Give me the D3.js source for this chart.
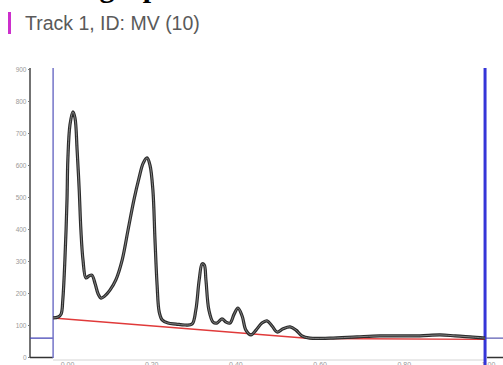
<!DOCTYPE html>
<html>
<head>
<meta charset="utf-8">
<script src="https://cdn.jsdelivr.net/npm/d3@7"></script>
<style>
  html, body { margin: 0; padding: 0; background: #fff; }
  svg { display: block; }
</style>
</head>
<body>
<svg id="chart" width="503" height="365"></svg>
<script>
// Densitogram of track 1 (Rf position vs. signal in AU)
const trackTitle = "Track 1, ID: MV (10)";
const heading = "HPTLC graph";

const rfTicks = [0.00, 0.20, 0.40, 0.60, 0.80, 1.00];
const auTicks = [0, 100, 200, 300, 400, 500, 600, 700, 800, 900];

// scan signal
const scanRf = [
  -0.033, -0.021, -0.014, -0.010, -0.005, 0.000, 0.002, 0.007, 0.014, 0.019,
  0.024, 0.029, 0.033, 0.038, 0.045, 0.052, 0.059, 0.067, 0.074, 0.081,
  0.090, 0.102, 0.116, 0.131, 0.145, 0.159, 0.171, 0.181, 0.190, 0.197,
  0.204, 0.209, 0.214, 0.219, 0.226, 0.240, 0.259, 0.280, 0.297, 0.306,
  0.314, 0.321, 0.326, 0.330, 0.337, 0.347, 0.356, 0.368, 0.378, 0.387,
  0.397, 0.406, 0.416, 0.425, 0.437, 0.449, 0.463, 0.475, 0.487, 0.499,
  0.513, 0.530, 0.544, 0.558, 0.577, 0.625, 0.689, 0.743, 0.791, 0.838,
  0.886, 0.922, 0.957, 0.993
];
const scanAU = [
  122, 125, 134, 178, 303, 491, 616, 725, 766, 747,
  647, 522, 397, 303, 247, 253, 256, 228, 197, 184,
  191, 209, 241, 303, 397, 491, 559, 606, 622, 600,
  522, 366, 225, 141, 116, 106, 103, 100, 103, 147,
  241, 291, 288, 241, 147, 109, 106, 119, 109, 106,
  134, 153, 128, 84, 69, 84, 106, 113, 97, 78,
  88, 94, 84, 66, 59, 59, 63, 66, 66, 66,
  69, 66, 63, 59
];

// integration baseline
const baseRf = [-0.033, 0.577, 0.993];
const baseAU = [122, 58, 55];

// application position and solvent front
const startRf = -0.033;
const frontRf = 0.993;
const markerAU = 59;

const svg = d3.select("#chart");

const x = d3.scaleLinear().domain([0, 1]).range([67, 488]);
const y = d3.scaleLinear().domain([0, 900]).range([357, 69]);

// heading above (clipped by the top edge)
const measure = svg.append("text")
  .attr("font-family", "Liberation Serif, serif")
  .attr("font-weight", "bold")
  .attr("font-size", 30)
  .text("HPTLC ");
const prefixW = measure.node().getComputedTextLength();
measure.remove();
svg.append("text")
  .attr("x", 92 - prefixW)
  .attr("y", -3)
  .attr("font-family", "Liberation Serif, serif")
  .attr("font-weight", "bold")
  .attr("font-size", 30)
  .attr("fill", "#000")
  .text(heading);

// track title
svg.append("rect")
  .attr("x", 8).attr("y", 12).attr("width", 3).attr("height", 22)
  .attr("fill", "#cc2fcc");
svg.append("text")
  .attr("x", 25).attr("y", 30)
  .attr("font-family", "Liberation Sans, Arial, sans-serif")
  .attr("font-size", 19.5)
  .attr("fill", "#5a5a5a")
  .text(trackTitle);

// y axis
const yAxis = d3.axisLeft(y).tickValues(auTicks).tickSize(2).tickPadding(1.5);
const gy = svg.append("g").attr("transform", "translate(30,0)").call(yAxis);
gy.select(".domain").attr("stroke", "#444").attr("stroke-width", 1.5)
  .attr("d", `M0,${y(900) - 1}V${y(0) + 1}`);
gy.selectAll(".tick line").attr("stroke", "#777");
gy.selectAll(".tick text")
  .attr("font-family", "Liberation Sans, Arial, sans-serif")
  .attr("font-size", 6.5)
  .attr("fill", "#999");

// x axis
const xAxis = d3.axisBottom(x).tickValues(rfTicks).tickSize(0).tickPadding(2)
  .tickFormat(d3.format(".2f"));
const gx = svg.append("g").attr("transform", "translate(0,360)").call(xAxis);
gx.select(".domain").attr("stroke", "#d4d4d4").attr("stroke-width", 1)
  .attr("d", `M${x(startRf)},0H${x(frontRf)}`);
gx.selectAll(".tick text")
  .attr("font-family", "Liberation Sans, Arial, sans-serif")
  .attr("font-size", 7)
  .attr("fill", "#999");

// start box (left)
svg.append("line")
  .attr("x1", 30).attr("x2", x(startRf))
  .attr("y1", y(0) + 0.5).attr("y2", y(0) + 0.5)
  .attr("stroke", "#333").attr("stroke-width", 1.5);
svg.append("line")
  .attr("x1", 30).attr("x2", x(startRf))
  .attr("y1", y(markerAU)).attr("y2", y(markerAU))
  .attr("stroke", "#4848b8").attr("stroke-width", 1.3);
svg.append("line")
  .attr("x1", x(startRf)).attr("x2", x(startRf))
  .attr("y1", y(900) - 1).attr("y2", y(0) + 1)
  .attr("stroke", "#7474c8").attr("stroke-width", 1.5);

// front marker (right)
svg.append("line")
  .attr("x1", x(frontRf)).attr("x2", 503)
  .attr("y1", y(markerAU)).attr("y2", y(markerAU))
  .attr("stroke", "#5656b0").attr("stroke-width", 1.2);
svg.append("line")
  .attr("x1", x(frontRf) + 2).attr("x2", 503)
  .attr("y1", y(0) + 0.5).attr("y2", y(0) + 0.5)
  .attr("stroke", "#333").attr("stroke-width", 1.5);
svg.append("line")
  .attr("x1", x(frontRf)).attr("x2", x(frontRf))
  .attr("y1", y(900) - 1).attr("y2", 365)
  .attr("stroke", "#3535d8").attr("stroke-width", 3);

// baseline
const baseLine = d3.line().x((d, i) => x(baseRf[i])).y((d, i) => y(baseAU[i]));
svg.append("path")
  .attr("d", baseLine(baseRf))
  .attr("fill", "none")
  .attr("stroke", "#e03a3a")
  .attr("stroke-width", 1.4);

// signal trace
const scanLine = d3.line()
  .x((d, i) => x(scanRf[i]))
  .y((d, i) => y(scanAU[i]))
  .curve(d3.curveCatmullRom.alpha(0.5));
const scanPath = scanLine(scanRf);
svg.append("path")
  .attr("d", scanPath)
  .attr("fill", "none")
  .attr("stroke", "#2b2b2b")
  .attr("stroke-width", 3.2)
  .attr("stroke-linejoin", "round");
svg.append("path")
  .attr("d", scanPath)
  .attr("fill", "none")
  .attr("stroke", "#8a8a8a")
  .attr("stroke-width", 0.9)
  .attr("stroke-linejoin", "round");
</script>
</body>
</html>
